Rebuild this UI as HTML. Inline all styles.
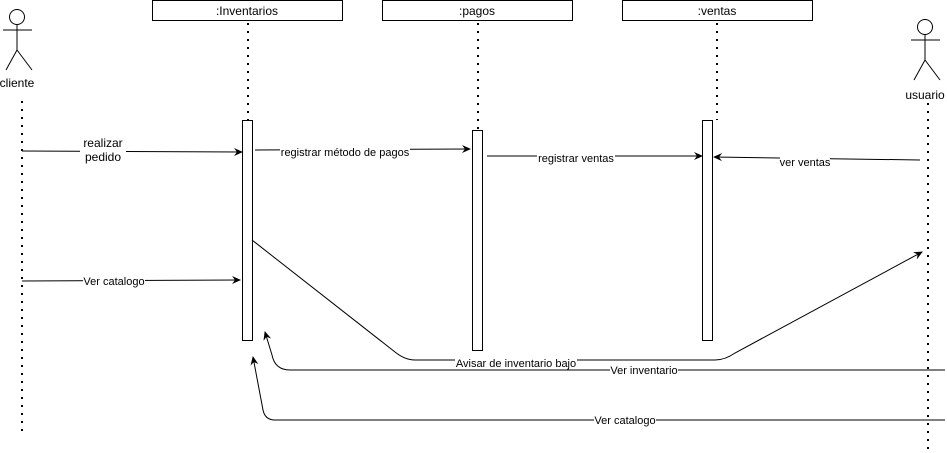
<!DOCTYPE html>
<html><head><style>body{margin:0;background:#fff}svg{display:block}</style></head><body>
<svg width="947" height="453" viewBox="0 0 947 453" xmlns="http://www.w3.org/2000/svg" font-family="Liberation Sans, sans-serif" font-size="11">
<defs><marker id="a" markerWidth="10" markerHeight="10" refX="8" refY="5" orient="auto" markerUnits="userSpaceOnUse"><path d="M0,1 L9,5 L0,9 L3,5 Z" fill="#000"/></marker></defs>
<g stroke="#000" fill="none">
<circle cx="17" cy="17" r="7.5"/><path d="M17,25 V50 M3,30 H32 M17,50 L6,70 M17,50 L32,70"/>
<circle cx="925" cy="27" r="7.5"/><path d="M925,35 V60 M911,40 H940 M925,60 L914,80 M925,60 L940,80"/>
<rect x="152.5" y="0.5" width="190" height="20"/>
<rect x="382.5" y="0.5" width="190" height="20"/>
<rect x="622.5" y="0.5" width="190" height="20"/>
<g stroke-dasharray="2,6" stroke-width="2">
<path d="M22,101 V432"/><path d="M248,23 V120"/><path d="M478,23 V130"/><path d="M717,23 V120"/><path d="M928,103 V452"/>
</g>
<rect x="242.5" y="120.5" width="10" height="220" fill="#fff"/>
<rect x="472.5" y="130.5" width="10" height="220" fill="#fff"/>
<rect x="702.5" y="120.5" width="10" height="220" fill="#fff"/>
<g marker-end="url(#a)">
<path d="M22,151 L242,152"/>
<path d="M255,150 L470,149"/>
<path d="M487,156 L702,156"/>
<path d="M920,160 L714,157"/>
<path d="M22,281 L240,280"/>
<path d="M252,240 L395,352 Q405,360 415,360 L715,360 Q725,360 735,353 L922,252"/>
<path d="M945,370 L290,370 Q275,370 272,355 L265,332"/>
<path d="M945,420 L275,420 Q265,420 263,410 L253,357"/>
</g>
</g>
<g fill="#000" text-anchor="middle">
<text x="17" y="87" font-size="12">cliente</text>
<text x="925" y="99" font-size="12">usuario</text>
<text x="247" y="15" font-size="12">:Inventarios</text>
<text x="477" y="15" font-size="12">:pagos</text>
<text x="717" y="15" font-size="12">:ventas</text>
</g>
<g text-anchor="middle">
<rect x="80" y="136" width="46" height="28" fill="#fff"/>
<text x="103" y="147" font-size="12">realizar</text><text x="103" y="161" font-size="12">pedido</text>
<rect x="280" y="146" width="130" height="13" fill="#fff"/><text x="345" y="156">registrar método de pagos</text>
<rect x="537" y="152" width="78" height="13" fill="#fff"/><text x="576" y="162">registrar ventas</text>
<rect x="780" y="156" width="50" height="13" fill="#fff"/><text x="805" y="166">ver ventas</text>
<rect x="83" y="275" width="62" height="13" fill="#fff"/><text x="114" y="285">Ver catalogo</text>
<rect x="455" y="357" width="122" height="12" fill="#fff"/><text x="516" y="367">Avisar de inventario bajo</text>
<rect x="610" y="364" width="68" height="12" fill="#fff"/><text x="644" y="374">Ver inventario</text>
<rect x="594" y="414" width="62" height="12" fill="#fff"/><text x="625" y="424">Ver catalogo</text>
</g>
</svg>
</body></html>
